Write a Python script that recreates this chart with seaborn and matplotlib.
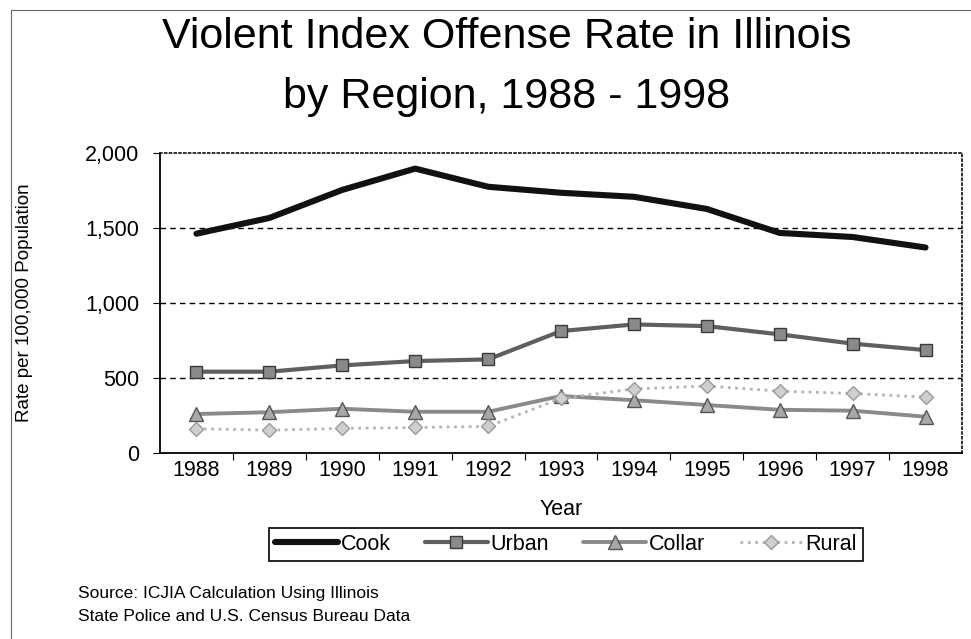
import pandas as pd
import matplotlib.pyplot as plt
import seaborn as sns
from matplotlib.patches import Rectangle
from matplotlib.ticker import FixedLocator, FuncFormatter

# Data (rate per 100,000 population)
years = [1988, 1989, 1990, 1991, 1992, 1993, 1994, 1995, 1996, 1997, 1998]
cook = [1460, 1565, 1752, 1894, 1773, 1733, 1706, 1625, 1465, 1438, 1368]
urban = [540, 540, 582, 611, 622, 811, 855, 844, 789, 727, 684]
collar = [258, 270, 293, 273, 273, 378, 350, 318, 286, 280, 240]
rural = [160, 150, 162, 168, 175, 362, 425, 445, 410, 395, 370]

regions = ['Cook', 'Urban', 'Collar', 'Rural']

df = pd.DataFrame({'Year': years, 'Cook': cook, 'Urban': urban,
                   'Collar': collar, 'Rural': rural})
long_df = df.melt(id_vars='Year', var_name='Region', value_name='Rate')

# Line styles per region (greyscale, like the scanned original)
STYLES = {
    'Cook':   dict(color='#111111', lw=4.4, marker=None, ms=0, mfc='none', mec='none', ls='-'),
    'Urban':  dict(color='#5f5f5f', lw=3.0, marker='s', ms=9, mfc='#8a8a8a', mec='#3a3a3a', ls='-'),
    'Collar': dict(color='#8a8a8a', lw=2.8, marker='^', ms=10, mfc='#a8a8a8', mec='#555555', ls='-'),
    'Rural':  dict(color='#b4b4b4', lw=2.0, marker='D', ms=7, mfc='#cfcfcf', mec='#9a9a9a', ls=':'),
}

sns.set_style('white')
plt.rcParams['font.family'] = ['Liberation Sans', 'DejaVu Sans']
plt.rcParams['text.color'] = 'black'
plt.rcParams['axes.labelcolor'] = 'black'
plt.rcParams['xtick.color'] = 'black'
plt.rcParams['ytick.color'] = 'black'

fig = plt.figure(figsize=(9.71, 6.39), dpi=100)
ax = fig.add_axes([160 / 971, 1 - 452.7 / 639, 802 / 971, 300 / 639])

for region in regions:
    st = STYLES[region]
    sub = long_df[long_df['Region'] == region]
    sns.lineplot(data=sub, x='Year', y='Rate', ax=ax, label=region,
                 color=st['color'], linewidth=st['lw'], linestyle=st['ls'],
                 marker=st['marker'], markersize=st['ms'],
                 markerfacecolor=st['mfc'], markeredgecolor=st['mec'],
                 markeredgewidth=1.0, legend=False)

# Axes limits / ticks (category-style x axis)
ax.set_xlim(years[0] - 0.5, years[-1] + 0.5)
ax.set_ylim(0, 2000)
ax.xaxis.set_major_locator(FixedLocator(years))
ax.xaxis.set_minor_locator(FixedLocator([y + 0.5 for y in years[:-1]]))
ax.set_yticks([0, 500, 1000, 1500, 2000])
ax.yaxis.set_major_formatter(FuncFormatter(lambda v, p: f'{int(v):,}'))
ax.tick_params(axis='x', which='major', length=0, pad=5, labelsize=15.5)
ax.tick_params(axis='x', which='minor', length=5, width=0.8, direction='out', color='black')
ax.tick_params(axis='y', length=5, width=0.8, direction='out', color='black', pad=10, labelsize=15.5)
ax.tick_params(bottom=True, left=True, which='both')

# Gridlines dashed at 500 steps
for yv in [500, 1000, 1500]:
    ax.axhline(yv, color='black', lw=1.0, ls=(0, (4, 3)), zorder=0)

# Spines: solid left/bottom, dotted top/right plot-area border
for side in ['left', 'bottom']:
    ax.spines[side].set_color('black')
    ax.spines[side].set_linewidth(1.3)
for side in ['top', 'right']:
    ax.spines[side].set_color('#222222')
    ax.spines[side].set_linewidth(1.3)
    ax.spines[side].set_linestyle(':')

ax.set_xlabel('Year', fontsize=15.5)
ax.xaxis.set_label_coords(0.5, -0.155)
ax.set_ylabel('Rate per 100,000 Population', fontsize=13.5)
ax.yaxis.set_label_coords(-0.158, 0.5)

# Title, two lines
fig.text(507 / 971, 1 - 48 / 639, 'Violent Index Offense Rate in Illinois',
         ha='center', va='baseline', fontsize=31)
fig.text(507 / 971, 1 - 108 / 639, 'by Region, 1988 - 1998',
         ha='center', va='baseline', fontsize=31)

# Legend below the axis
handles, labels = ax.get_legend_handles_labels()
leg = fig.legend(handles, labels, loc='center', ncol=4, mode='expand',
                 bbox_to_anchor=(258 / 971, 1 - 562 / 639, 616 / 971, 35 / 639),
                 fontsize=15.5, frameon=True, fancybox=False, framealpha=1,
                 edgecolor='black', handlelength=2.9, handletextpad=0.15,
                 borderpad=0.3, numpoints=1)
leg.get_frame().set_linewidth(1.2)

# Source note
fig.text(78 / 971, 1 - 598 / 639, 'Source: ICJIA Calculation Using Illinois',
         ha='left', va='baseline', fontsize=12.5)
fig.text(78 / 971, 1 - 621 / 639, 'State Police and U.S. Census Bureau Data',
         ha='left', va='baseline', fontsize=12.5)

# Outer chart frame (left and top edges visible)
fig.patches.append(Rectangle((11 / 971, -0.05), 1.0, 1 - 10 / 639 + 0.05,
                             transform=fig.transFigure, fill=False,
                             edgecolor='#666666', lw=0.8))

fig.savefig('out.png', dpi=100)
